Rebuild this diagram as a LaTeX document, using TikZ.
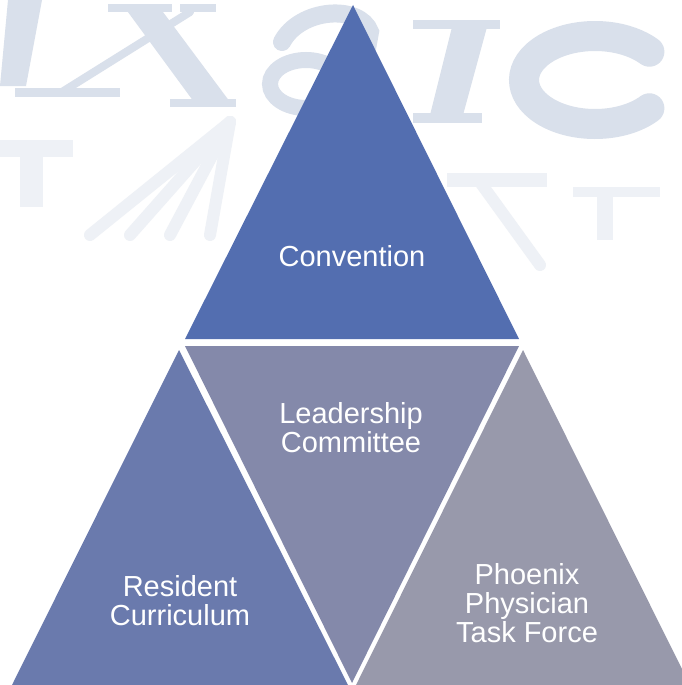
\documentclass[tikz,border=0pt]{standalone}
\usepackage{fontspec}
\setmainfont{Liberation Sans}

\definecolor{topblue}{HTML}{536EB0}
\definecolor{midgrey}{HTML}{8489AA}
\definecolor{leftblue}{HTML}{6A7AAD}
\definecolor{rightgrey}{HTML}{9899AB}
\definecolor{wmblue}{HTML}{D9E0EB}
\definecolor{wmpale}{HTML}{EEF1F6}

\tikzset{
  tritext/.style={text=white, align=center, inner sep=0pt, anchor=north,
    font=\fontsize{29}{29}\selectfont},
  wmfill/.style={fill=wmblue},
  wmline/.style={draw=wmblue, line cap=round},
  wmfaint/.style={draw=wmpale, line cap=round, line width=12pt}
}

\begin{document}
\begin{tikzpicture}[x=1pt,y=-1pt]
    \fill[white] (0,0) rectangle (681,685);
    \useasboundingbox (0,0) rectangle (681,685);

    % faded lettering behind the pyramid (upper row)
    \fill[wmfill] (8,0) -- (42,0) -- (26,86) -- (0,86) -- cycle;
    \fill[wmfill] (125,8) -- (160,8) -- (230,102) -- (194,102) -- cycle;
    \draw[wmline, line width=8pt] (190,12) -- (62,92);
    \fill[wmfill] (108,4) rectangle (172,12);
    \fill[wmfill] (180,4) rectangle (216,12);
    \fill[wmfill] (15,88) rectangle (120,97);
    \fill[wmfill] (170,99) rectangle (236,107);
    \draw[wmline, line width=18pt] (282,42) .. controls (300,8) and (360,4) .. (370,32) -- (356,110);
    \draw[wmline, line width=16pt] (306,84) ellipse [x radius=36, y radius=24];
    \fill[wmfill] (413,20) rectangle (500,29);
    \fill[wmfill] (413,113) rectangle (482,123);
    \fill[wmfill] (452,27) -- (487,27) -- (463,115) -- (430,115) -- cycle;
    \draw[wmline, line width=30pt] (595,80) ++(40:71 and 44) arc[start angle=40, end angle=320, x radius=71, y radius=44];

    % lower row, almost washed out
    \fill[wmpale] (0,140) rectangle (73,157);
    \fill[wmpale] (20,157) rectangle (43,207);
    \foreach \ex in {90,130,170,210}
        \draw[wmfaint] (230,122) -- (\ex,235);
    \fill[wmpale] (447,173) rectangle (547,187);
    \fill[wmpale] (573,187) rectangle (660,197);
    \fill[wmpale] (597,187) rectangle (613,240);
    \draw[wmfaint] (480,182) -- (540,265);

    \fill[topblue] (353,5) -- (519,339) -- (185,339) -- cycle;
    \fill[midgrey] (185,346) -- (519,346) -- (352,683) -- cycle;
    \fill[leftblue] (179,350) -- (348,685) -- (12,685) -- cycle;
    \fill[rightgrey] (523,350) -- (690,685) -- (356,685) -- cycle;

    \node[tritext] (convention) at (352,245) {Convention};
    \node[tritext] (leadership) at (351,402) {Leadership\\Committee};
    \node[tritext] (resident) at (180,575) {Resident\\Curriculum};
    \node[tritext] (phoenix) at (527,563) {Phoenix\\Physician\\Task Force};
\end{tikzpicture}
\end{document}
